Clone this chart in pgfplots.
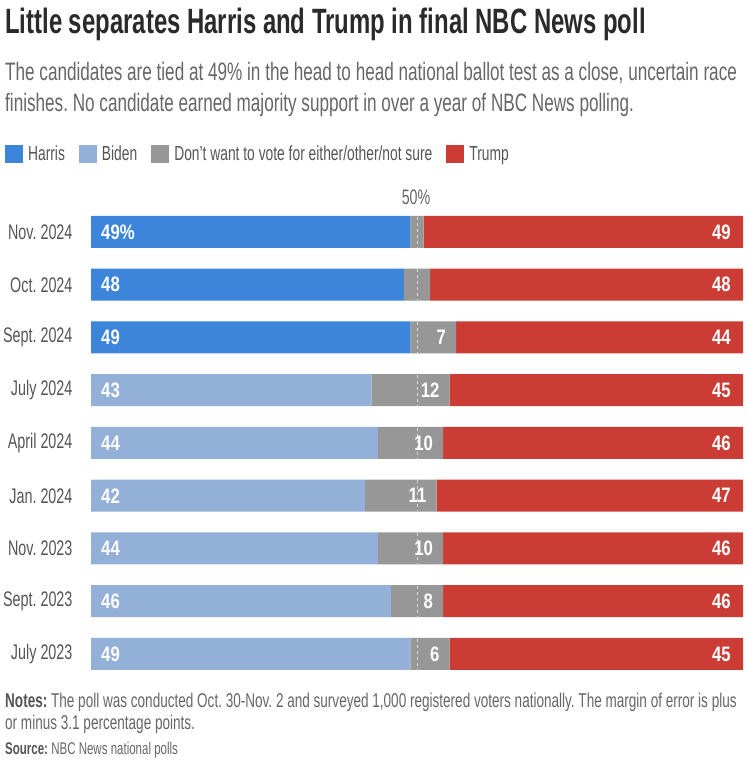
\documentclass[border=0pt]{standalone}
\usepackage{pgfplots}
\pgfplotsset{compat=1.18}
\usepackage{pgfplotstable}
\usepackage{fontspec}
\setmainfont{Liberation Sans}[FakeStretch=0.68]
\newfontfamily\labfont{Liberation Sans}[FakeStretch=0.8]
\frenchspacing
\definecolor{harris}{HTML}{3C85DA}
\definecolor{biden}{HTML}{93B0D8}
\definecolor{other}{HTML}{979797}
\definecolor{trump}{HTML}{CB3C35}
\definecolor{titlec}{HTML}{2A2A2A}
\definecolor{subc}{HTML}{666666}
\definecolor{labc}{HTML}{555555}

\pgfplotstableread{
y harris biden other trump oend olab leftlab zero full
0 49 0 2 49 51 {} 49\% 0 100
1 48 0 4 48 52 {} 48 0 100
2 49 0 7 44 56 7 49 0 100
3 0 43 12 45 55 12 43 0 100
4 0 44 10 46 54 10 44 0 100
5 0 42 11 47 53 11 42 0 100
6 0 44 10 46 54 10 44 0 100
7 0 46 8 46 54 8 46 0 100
8 0 49 6 45 55 6 49 0 100
}\polldata

\pgfplotsset{commonax/.style={
  width=652bp, height=474.75bp, scale only axis,
  xmin=0, xmax=100, ymin=-0.5, ymax=8.5, y dir=reverse,
  at={(91bp,-205.6bp)}, anchor=north west}}

\begin{document}
\begin{tikzpicture}
\path[use as bounding box] (0bp,0bp) rectangle (748bp,-763bp);
\node[anchor=base west, inner sep=0, font=\bfseries\fontsize{35.3}{38}\selectfont, text=titlec] at (5bp,-33bp) {Little separates Harris and Trump in final NBC News poll};
\node[anchor=base west, inner sep=0, font=\fontsize{25.3}{28}\selectfont, text=subc] at (5bp,-80bp) {The candidates are tied at 49\% in the head to head national ballot test as a close, uncertain race};
\node[anchor=base west, inner sep=0, font=\fontsize{25.3}{28}\selectfont, text=subc] at (5bp,-111bp) {finishes. No candidate earned majority support in over a year of NBC News polling.};
\node[anchor=base, inner sep=0, font=\fontsize{21}{24}\selectfont, text=subc] at (416bp,-204bp) {50\%};
\node[anchor=base west, inner sep=0, font=\fontsize{20}{23}\selectfont, text=subc] at (5bp,-707bp) {\textbf{\color{labc}Notes:} The poll was conducted Oct. 30-Nov. 2 and surveyed 1,000 registered voters nationally. The margin of error is plus};
\node[anchor=base west, inner sep=0, font=\fontsize{20}{23}\selectfont, text=subc] at (5bp,-729bp) {or minus 3.1 percentage points.};
\node[anchor=base west, inner sep=0, font=\fontsize{17}{19}\selectfont, text=subc] at (5bp,-754bp) {\textbf{\color{labc}Source:} NBC News national polls};

\begin{axis}[
  commonax,
  xbar stacked, bar width=32bp,
  hide x axis,
  axis y line*=left, y axis line style={draw=none},
  major tick length=0pt,
  ytick={0,...,8},
  yticklabels={Nov. 2024, Oct. 2024, Sept. 2024, July 2024, April 2024, Jan. 2024, Nov. 2023, Sept. 2023, July 2023},
  yticklabel style={font=\fontsize{21.2}{23}\selectfont, text=labc, anchor=east, xshift=-15bp},
  legend style={at={(-0.132,1.13)}, anchor=north west, draw=none, fill=none,
    font=\fontsize{20.4}{23}\selectfont, text=labc, inner sep=0pt,
    /tikz/every odd column/.style={column sep=3bp},
    /tikz/every even column/.style={column sep=12bp}},
  legend columns=4,
  legend image code/.code={\fill[#1] (0bp,-9bp) rectangle (18bp,9bp);},
]
\addplot[fill=harris, draw=none] table[x=harris, y=y] {\polldata};
\addplot[fill=biden, draw=none] table[x=biden, y=y] {\polldata};
\addplot[fill=other, draw=none] table[x=other, y=y] {\polldata};
\addplot[fill=trump, draw=none] table[x=trump, y=y] {\polldata};
\legend{Harris, Biden, Don't want to vote for either/other/not sure, Trump}
\end{axis}

\begin{axis}[commonax, hide axis]
\pgfplotsinvokeforeach{0,...,8}{
  \draw[white!85!black, line width=1pt, dash pattern=on 3pt off 3pt] (axis cs:50,#1-0.29) -- (axis cs:50,#1+0.29);
}
\end{axis}

\begin{axis}[
  commonax,
  hide axis,
  every node near coord/.style={font=\labfont\bfseries\fontsize{21}{24}\selectfont, text=white, inner sep=0pt},
]
\addplot[draw=none, nodes near coords, point meta=explicit symbolic,
  every node near coord/.append style={anchor=west, xshift=10bp}]
  table[x=zero, y=y, meta=leftlab] {\polldata};
\addplot[draw=none, nodes near coords, point meta=explicit symbolic,
  every node near coord/.append style={anchor=east, xshift=-10bp}]
  table[x=oend, y=y, meta=olab] {\polldata};
\addplot[draw=none, nodes near coords, point meta=explicit symbolic,
  every node near coord/.append style={anchor=east, xshift=-12bp}]
  table[x=full, y=y, meta=trump] {\polldata};
\end{axis}
\end{tikzpicture}
\end{document}
